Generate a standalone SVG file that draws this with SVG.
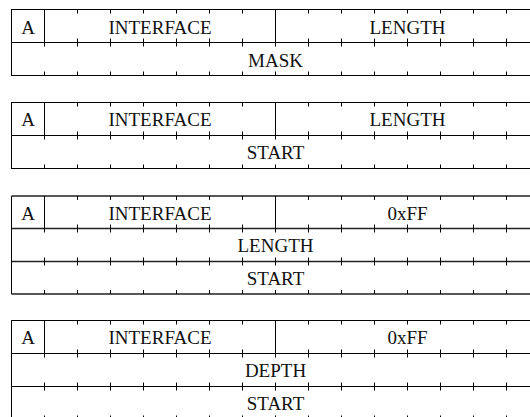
<svg xmlns="http://www.w3.org/2000/svg" xmlns:xlink="http://www.w3.org/1999/xlink" width="530" height="417" viewBox="0 0 530 417">
  <style>
    .frame { fill: none; stroke: #000; stroke-width: 1; }
    .soft { stroke: #222; stroke-width: 1.4; }
    .tick { fill: none; stroke: #000; stroke-width: 1; }
    .lbl { font-family: "Liberation Serif", "Times New Roman", serif; font-size: 19px; fill: #111; text-anchor: middle; }
  </style>
  <defs>
    <!-- bit ticks every 33px, one variant per line position -->
    <path id="ticksDown" class="tick" d="M44.5 0v4M77.5 0v4M110.5 0v4M143.5 0v4M176.5 0v4M209.5 0v4M242.5 0v4M275.5 0v4M308.5 0v4M341.5 0v4M374.5 0v4M407.5 0v4M440.5 0v4M473.5 0v4M506.5 0v4"/>
    <path id="ticksMid" class="tick" d="M44.5-4v8M77.5-4v8M110.5-4v8M143.5-4v8M176.5-4v8M209.5-4v8M242.5-4v8M275.5-4v8M308.5-4v8M341.5-4v8M374.5-4v8M407.5-4v8M440.5-4v8M473.5-4v8M506.5-4v8"/>
    <path id="ticksUp" class="tick" d="M44.5-4v4M77.5-4v4M110.5-4v4M143.5-4v4M176.5-4v4M209.5-4v4M242.5-4v4M275.5-4v4M308.5-4v4M341.5-4v4M374.5-4v4M407.5-4v4M440.5-4v4M473.5-4v4M506.5-4v4"/>
  </defs>

  <!-- Format 1: A / INTERFACE / LENGTH, MASK -->
  <g id="format-mask">
    <rect class="frame" x="11.5" y="9.5" width="528" height="66"/>
    <path class="frame" d="M11.5 42.5H539.5M44.5 9.5V42.5M275.5 9.5V42.5"/>
    <use xlink:href="#ticksDown" y="9.5"/>
    <use xlink:href="#ticksMid" y="42.5"/>
    <use xlink:href="#ticksUp" y="75.5"/>
    <text class="lbl" x="28" y="33.5">A</text>
    <text class="lbl" x="160" y="33.5">INTERFACE</text>
    <text class="lbl" x="407.5" y="33.5">LENGTH</text>
    <text class="lbl" x="275.5" y="66.5">MASK</text>
  </g>

  <!-- Format 2: A / INTERFACE / LENGTH, START -->
  <g id="format-start">
    <rect class="frame" x="11.5" y="102.5" width="528" height="66"/>
    <path class="frame" d="M11.5 135.5H539.5M44.5 102.5V135.5M275.5 102.5V135.5"/>
    <use xlink:href="#ticksDown" y="102.5"/>
    <use xlink:href="#ticksMid" y="135.5"/>
    <use xlink:href="#ticksUp" y="168.5"/>
    <text class="lbl" x="28" y="126">A</text>
    <text class="lbl" x="160" y="126">INTERFACE</text>
    <text class="lbl" x="407.5" y="126">LENGTH</text>
    <text class="lbl" x="275.5" y="159">START</text>
  </g>

  <!-- Format 3: A / INTERFACE / 0xFF, LENGTH, START -->
  <g id="format-length-start">
    <path class="frame soft" d="M11.5 196H539.5M11.5 228.5H539.5M11.5 261.5H539.5M11.5 294H539.5"/>
    <path class="frame" d="M11.5 196V294M44.5 196V228.5M275.5 196V228.5"/>
    <use xlink:href="#ticksDown" y="196"/>
    <use xlink:href="#ticksMid" y="228.5"/>
    <use xlink:href="#ticksMid" y="261.5"/>
    <use xlink:href="#ticksUp" y="294"/>
    <text class="lbl" x="28" y="219.5">A</text>
    <text class="lbl" x="160" y="219.5">INTERFACE</text>
    <text class="lbl" x="407.5" y="219.5">0xFF</text>
    <text class="lbl" x="275.5" y="252">LENGTH</text>
    <text class="lbl" x="275.5" y="285">START</text>
  </g>

  <!-- Format 4: A / INTERFACE / 0xFF, DEPTH, START -->
  <g id="format-depth-start">
    <rect class="frame" x="11.5" y="320.5" width="528" height="99"/>
    <path class="frame" d="M11.5 353.5H539.5M11.5 386.5H539.5M44.5 320.5V353.5M275.5 320.5V353.5"/>
    <use xlink:href="#ticksDown" y="320.5"/>
    <use xlink:href="#ticksMid" y="353.5"/>
    <use xlink:href="#ticksMid" y="386.5"/>
    <use xlink:href="#ticksUp" y="419.5"/>
    <text class="lbl" x="28" y="344">A</text>
    <text class="lbl" x="160" y="344">INTERFACE</text>
    <text class="lbl" x="407.5" y="344">0xFF</text>
    <text class="lbl" x="275.5" y="377">DEPTH</text>
    <text class="lbl" x="275.5" y="410">START</text>
  </g>
</svg>
